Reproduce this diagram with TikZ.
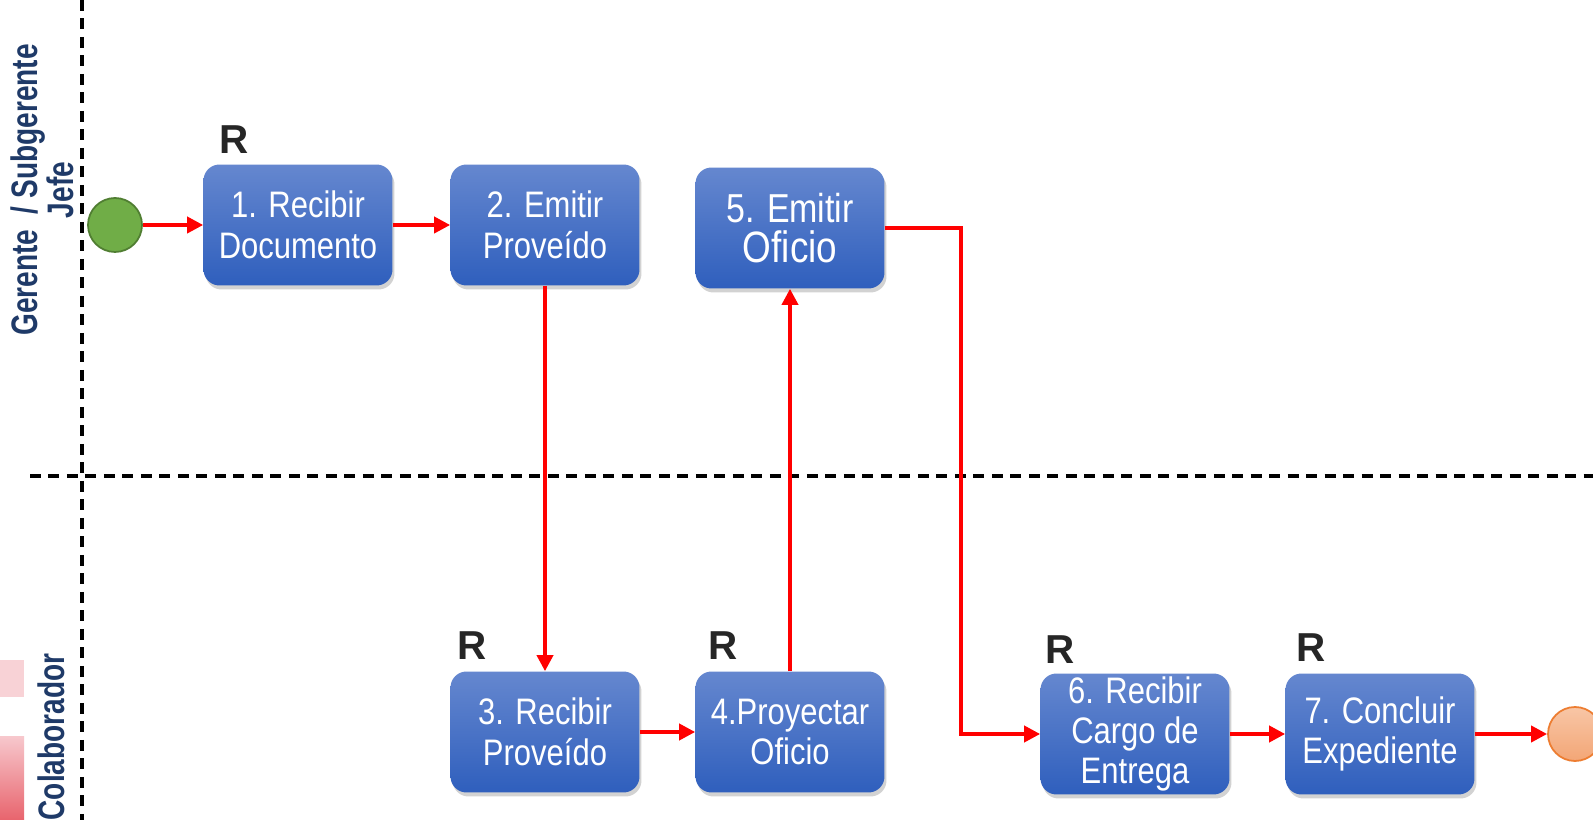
\documentclass[tikz,border=0pt]{standalone}
\usepackage{fontspec}
\setmainfont{Liberation Sans}
\newfontfamily\boxfont[FakeStretch=0.84]{Liberation Sans}
\newfontfamily\lanefont[FakeStretch=0.76]{Liberation Sans}
\usepackage{xcolor}
\usetikzlibrary{arrows.meta,shadows}
\definecolor{boxtop}{HTML}{6587CF}
\definecolor{boxbot}{HTML}{2F5FBD}
\definecolor{lanetext}{HTML}{1F3A68}
\definecolor{startfill}{HTML}{70AD47}
\definecolor{startline}{HTML}{507E32}
\definecolor{endtop}{HTML}{F8C6A6}
\definecolor{endbot}{HTML}{F3A676}
\definecolor{endline}{HTML}{ED7D31}

\begin{document}
\begin{tikzpicture}[x=0.02cm,y=-0.02cm,
    task/.style={rectangle,rounded corners=0.32cm,minimum width=3.78cm,minimum height=2.42cm,
      inner sep=0pt,align=center,text=white,top color=boxtop,bottom color=boxbot,
      drop shadow={shadow xshift=0.04cm,shadow yshift=-0.08cm,opacity=0.35},
      font=\boxfont\fontsize{21}{23}\selectfont},
    resp/.style={font=\bfseries\fontsize{23}{26}\selectfont,text=black!85},
    lane/.style={font=\lanefont\bfseries\fontsize{21}{18.5}\selectfont,text=lanetext,align=center},
    flow/.style={draw=red,line width=2.1pt,-{Triangle[length=0.32cm,width=0.32cm]}},
    sep/.style={draw=black,line width=1.8pt,dash pattern=on 0.22cm off 0.15cm}]
        \clip (0,0) rectangle (1593,820);
        \fill[white] (0,0) rectangle (1593,820);

        % swimlanes
        \draw[sep] (82,0) -- (82,820);
        \draw[sep] (30,476) -- (1593,476);
        \node at (42,190) [lane,rotate=90] (lane1) {Gerente\ \ / Subgerente\\Jefe};
        \node at (51,737) [lane,rotate=90] (lane2) {Colaborador};
        \fill[fill={rgb,255:red,248;green,210;blue,214}] (0,660) rectangle (24,697);
        \shade[top color={rgb,255:red,247;green,200;blue,205},bottom color={rgb,255:red,232;green,100;blue,109}] (0,736) rectangle (24,820);

        \node at (115,225) [circle,minimum size=1.08cm,fill=startfill,draw=startline,line width=1pt] (start) {};
        \node at (298,225) [task] (b1) {1. Recibir\\Documento};
        \node at (545,225) [task] (b2) {2. Emitir\\Proveído};
        \node at (790,228) [task] (b5) {{\fontsize{23}{26}\selectfont 5. Emitir}\\{\fontsize{25}{27}\selectfont Oficio}};
        \node at (545,732) [task] (b3) {3. Recibir\\Proveído};
        \node at (790,732) [task] (b4) {4.Proyectar\\Oficio};
        \node at (1135,734) [task] (b6) {6. Recibir\\Cargo de\\Entrega};
        \node at (1380,734) [task] (b7) {7. Concluir\\Expediente};
        \node at (1575,734) [circle,minimum size=1.08cm,top color=endtop,bottom color=endbot,draw=endline,line width=1pt] (end) {};

        \node at (234,140) [resp] (r1) {R};
        \node at (472,646) [resp] (r3) {R};
        \node at (723,646) [resp] (r4) {R};
        \node at (1060,650) [resp] (r6) {R};
        \node at (1311,648) [resp] (r7) {R};

        \coordinate (turn) at (961,228);
        \draw[flow] (start) -- (b1);
        \draw[flow] (b1) -- (b2);
        \draw[flow] (b2) -- (b3);
        \draw[flow] (b3) -- (b4);
        \draw[flow] (b4) -- (b5);
        \draw[flow] (b5.east) -- (turn) |- (b6.west);
        \draw[flow] (b6) -- (b7);
        \draw[flow] (b7) -- (end);
\end{tikzpicture}
\end{document}
